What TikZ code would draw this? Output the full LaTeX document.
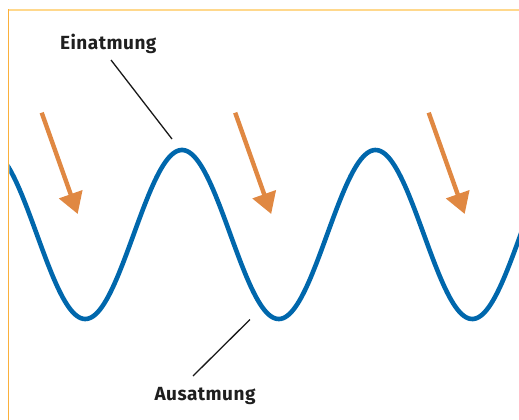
\documentclass[tikz,border=0pt]{standalone}
\usepackage{fontspec}
\setmainfont{Fira Sans}[LetterSpace=2.5]
\usetikzlibrary{arrows.meta}
\definecolor{waveblue}{HTML}{0067AC}
\definecolor{arroworange}{HTML}{E08842}
\definecolor{frametop}{HTML}{FFD88C}
\definecolor{frameleft}{HTML}{FBB03B}
\tikzset{
  wave/.style={draw=waveblue, line width=4.6pt, line join=round},
  airarrow/.style={draw=arroworange, fill=arroworange, line width=4.4pt,
    -{Triangle[length=21pt, width=24pt]}},
  leader/.style={draw=black!90, line width=1.3pt},
  label/.style={font=\bfseries\fontsize{19}{22}\selectfont, text=black!88, anchor=base, inner sep=0pt},
}
\begin{document}
\begin{tikzpicture}[x=1pt, y=-1pt]
\useasboundingbox (0,0) rectangle (519,420);
% frame
\draw[frametop, line width=1.6pt] (8,9.8) -- (519,9.8);
\draw[frameleft, line width=1.6pt] (8.5,9) -- (8.5,420);
% wave
\begin{scope}
\clip (9.3,0) rectangle (519,420);
\draw[wave] plot[domain=5:523, samples=260] (\x, {234.5-84.5*cos((\x-182)/193.5*360)});
\end{scope}
% arrows
\foreach \i/\dx in {1/0, 2/193.5, 3/387} {
  \coordinate (a\i s) at (41.7+\dx,112.7);
  \coordinate (a\i e) at (77.7+\dx,214);
  \draw[airarrow] (a\i s) -- (a\i e);
}
% labels
\node[label] (ein) at (108.3,49.5) {Einatmung};
\node[label] (aus) at (205,400) {Ausatmung};
\coordinate (einA) at (111,60);
\coordinate (einB) at (172,139);
\coordinate (ausA) at (250,319.5);
\coordinate (ausB) at (193,376);
\draw[leader] (einA) -- (einB);
\draw[leader] (ausA) -- (ausB);
\end{tikzpicture}
\end{document}
